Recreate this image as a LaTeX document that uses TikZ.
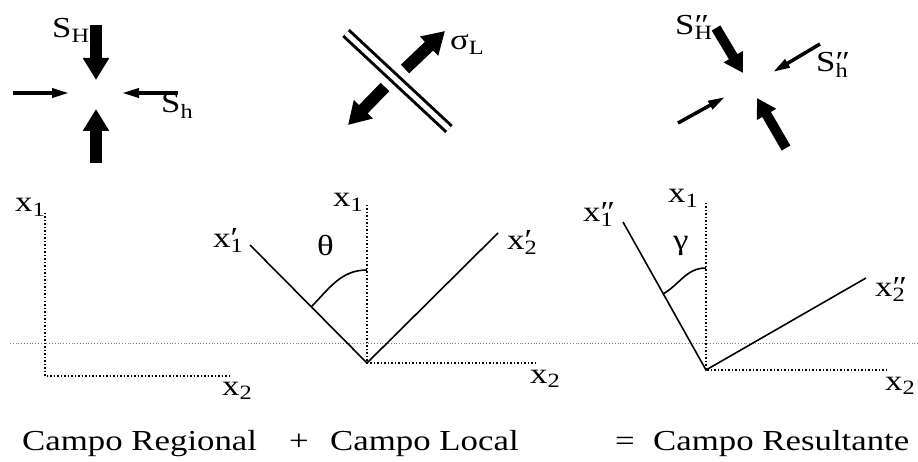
\documentclass[tikz,border=0pt]{standalone}
\usepackage{fontspec}
\setmainfont{Liberation Serif}
\newfontfamily\diagfont[FakeStretch=1.2]{Liberation Serif}
\usetikzlibrary{arrows.meta}
\newcommand{\supsub}[2]{\rlap{#1}\textsubscript{#2}}

\begin{document}
\begin{tikzpicture}[x=1pt, y=1pt,
    lbl/.style={font={\diagfont\fontsize{29}{34}\selectfont}, inner sep=0pt, anchor=base west},
    stress/.style={line width=12pt, -{Triangle[length=22pt,width=25pt]}},
    stress small/.style={line width=10pt, -{Triangle[length=19pt,width=21pt]}},
    faint/.style={line width=3.5pt, -{Triangle[length=17pt,width=9pt]}},
    axis/.style={dotted, line width=1.5pt},
    ray/.style={line width=1.6pt}]
    \useasboundingbox (0,0) rectangle (918,-462);

    % Regional field
    \coordinate (sH-tail) at (96,-25);   \coordinate (sH-tip) at (96,-80);
    \coordinate (sHb-tail) at (96,-163); \coordinate (sHb-tip) at (96,-109);
    \coordinate (shl-tail) at (13,-93);  \coordinate (shl-tip) at (69,-93);
    \coordinate (shr-tail) at (178,-93); \coordinate (shr-tip) at (122,-93);
    \draw[stress] (sH-tail) -- (sH-tip);
    \draw[stress] (sHb-tail) -- (sHb-tip);
    \draw[faint] (shl-tail) -- (shl-tip);
    \draw[faint] (shr-tail) -- (shr-tip);
    \node[lbl] (lab-sH) at (52,-38) {S\textsubscript{H}};
    \node[lbl] (lab-sh) at (161,-113) {S\textsubscript{h}};

    % Local field
    \coordinate (fault-a) at (346,-33);  \coordinate (fault-b) at (449,-129);
    \coordinate (sL-tail) at (405,-69);  \coordinate (sL-tip) at (445,-31);
    \coordinate (sLb-tail) at (385,-87); \coordinate (sLb-tip) at (348,-125);
    \draw[line width=3pt, double=white, double distance=5pt] (fault-a) -- (fault-b);
    \draw[stress] (sL-tail) -- (sL-tip);
    \draw[stress] (sLb-tail) -- (sLb-tip);
    \node[lbl] (lab-sL) at (450,-50) {σ\textsubscript{L}};

    % Resultant field
    \coordinate (rH-tail) at (716,-28);  \coordinate (rH-tip) at (743,-73);
    \coordinate (rh-tail) at (820,-44);  \coordinate (rh-tip) at (773,-72);
    \coordinate (rl-tail) at (678,-123); \coordinate (rl-tip) at (725,-97);
    \coordinate (rb-tail) at (786,-148); \coordinate (rb-tip) at (757,-98);
    \draw[stress small] (rH-tail) -- (rH-tip);
    \draw[faint] (rh-tail) -- (rh-tip);
    \draw[faint] (rl-tail) -- (rl-tip);
    \draw[stress small] (rb-tail) -- (rb-tip);
    \node[lbl] (lab-rH) at (675,-35) {S\supsub{″}{H}};
    \node[lbl] (lab-rh) at (816,-72) {S\supsub{″}{h}};

    % Reference line
    \coordinate (ref-l) at (10,-343); \coordinate (ref-r) at (918,-343);
    \draw[dotted, line width=0.8pt, gray] (ref-l) -- (ref-r);

    % Regional axes
    \coordinate (o1) at (45,-376);
    \coordinate (o1-x1) at (45,-213); \coordinate (o1-x2) at (232,-376);
    \draw[axis] (o1-x1) -- (o1) -- (o1-x2);
    \node[lbl] (lab1-x1) at (15,-212) {x\textsubscript{1}};
    \node[lbl] (lab1-x2) at (222,-395) {x\textsubscript{2}};

    % Local axes
    \coordinate (o2) at (367,-363);
    \coordinate (o2-x1) at (367,-205); \coordinate (o2-x2) at (538,-363);
    \coordinate (o2-p1) at (250,-245); \coordinate (o2-p2) at (498,-233);
    \coordinate (th-a) at (367,-270);  \coordinate (th-b) at (311,-307);
    \draw[axis] (o2-x1) -- (o2) -- (o2-x2);
    \draw[ray] (o2-p1) -- (o2) -- (o2-p2);
    \draw[ray] (th-a) to[out=180, in=45] (th-b);
    \node[lbl] (lab2-x1) at (333,-207) {x\textsubscript{1}};
    \node[lbl] (lab2-th) at (317,-256) {θ};
    \node[lbl] (lab2-p1) at (213,-248) {x\supsub{′}{1}};
    \node[lbl] (lab2-p2) at (507,-250) {x\supsub{′}{2}};
    \node[lbl] (lab2-x2) at (530,-383) {x\textsubscript{2}};

    % Resultant axes
    \coordinate (o3) at (706,-370);
    \coordinate (o3-x1) at (706,-203); \coordinate (o3-x2) at (888,-370);
    \coordinate (o3-p1) at (623,-222); \coordinate (o3-p2) at (866,-278);
    \coordinate (ga-a) at (706,-268);  \coordinate (ga-b) at (663,-294);
    \draw[axis] (o3-x1) -- (o3) -- (o3-x2);
    \draw[ray] (o3-p1) -- (o3) -- (o3-p2);
    \draw[ray] (ga-a) to[out=180, in=30] (ga-b);
    \node[lbl] (lab3-x1) at (668,-203) {x\textsubscript{1}};
    \node[lbl] (lab3-ga) at (673,-250) {γ};
    \node[lbl] (lab3-p1) at (583,-222) {x\supsub{″}{1}};
    \node[lbl] (lab3-p2) at (875,-297) {x\supsub{″}{2}};
    \node[lbl] (lab3-x2) at (885,-390) {x\textsubscript{2}};

    % Caption
    \node[lbl] (cap-reg) at (22,-450) {Campo Regional};
    \node[lbl, anchor=base] (cap-plus) at (299,-450) {+};
    \node[lbl] (cap-loc) at (330,-450) {Campo Local};
    \node[lbl, anchor=base] (cap-eq) at (625,-450) {=};
    \node[lbl] (cap-res) at (653,-450) {Campo Resultante};
\end{tikzpicture}
\end{document}
